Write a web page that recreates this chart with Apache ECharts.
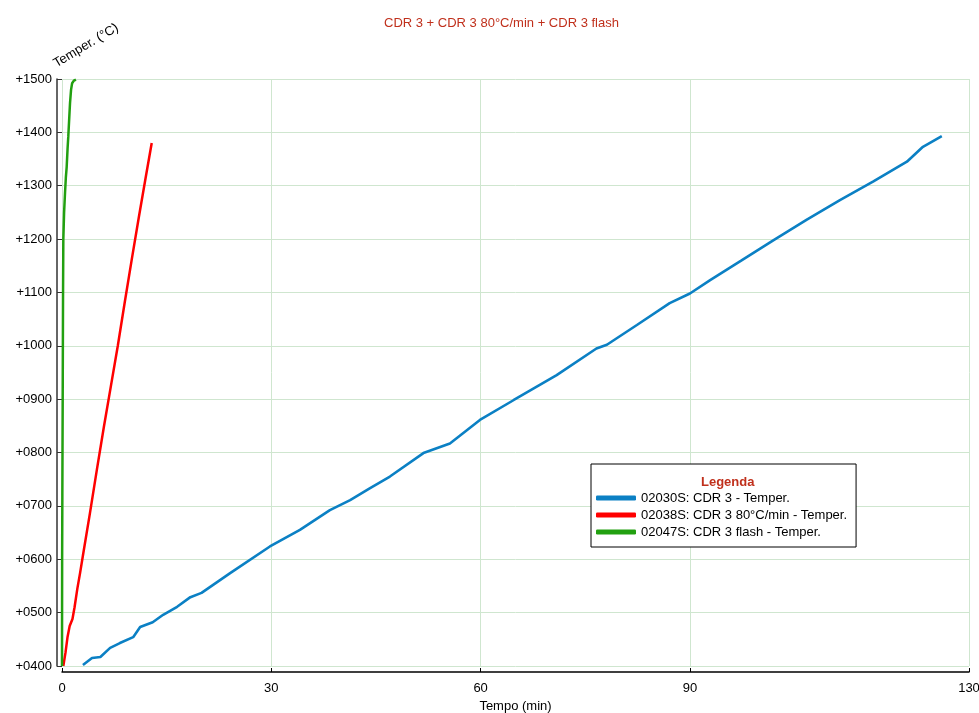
<!DOCTYPE html>
<html><head><meta charset="utf-8">
<script src="https://cdn.jsdelivr.net/npm/echarts@6/dist/echarts.min.js"></script>
<style>html,body{margin:0;padding:0;background:#fff}#c{width:979px;height:713px}</style>
</head><body><div id="c"></div>
<script>
const chartTitle = 'CDR 3 + CDR 3 80°C/min + CDR 3 flash';
const xAxisName = 'Tempo (min)';
const yAxisName = 'Temper. (°C)';
const legendTitle = 'Legenda';
const xTickValues = [0, 30, 60, 90, 130];
const yMin = 400, yMax = 1500, yStep = 100;
const seriesNames = ['02030S: CDR 3 - Temper.', '02038S: CDR 3 80°C/min - Temper.', '02047S: CDR 3 flash - Temper.'];
const seriesColors = ['#0b80c4', '#ff0000', '#22a010'];

const blueTime = [3.0,4.3,5.5,6.9,8.3,10.2,11.2,13.0,14.5,16.5,18.4,20.0,24.1,29.8,34.1,38.4,41.3,44.1,47.0,51.8,55.6,59.9,64.7,70.9,76.6,78.1,82.4,87.1,90.0,92.9,97.4,102.0,106.7,111.5,116.3,121.1,123.4,126.1];
const blueTemp = [402,415,417,434,443,454,473,482,496,511,529,537,574,624,655,692,711,733,755,799,817,861,898,945,995,1002,1039,1080,1098,1123,1160,1198,1236,1273,1308,1345,1373,1393];

const redTime = [0.19,0.5,0.8,1.1,1.5,1.8,2.2,2.6,3.0,4.0,5.0,6.0,7.0,8.0,9.0,10.0,11.0,12.0,12.86];
const redTemp = [400,425,455,475,488,510,545,575,607,686,768,848,924,1000,1082,1162,1240,1316,1380];

const greenTime = [0.0,0.02,0.05,0.1,0.15,0.19,0.3,0.43,0.55,0.67,0.8,0.9,1.05,1.15,1.3,1.45,1.7,2.0];
const greenTemp = [400,600,720,900,1100,1200,1250,1286,1315,1335,1370,1392,1430,1455,1480,1492,1497,1499];

const zip = (a, b) => a.map((v, i) => [v, b[i]]);
const seriesData = [zip(blueTime, blueTemp), zip(redTime, redTemp), zip(greenTime, greenTemp)];
const lineWidths = [2.6, 2.5, 2.5];

const FONT = 'Arial, "Liberation Sans", sans-serif';
const chart = echarts.init(document.getElementById('c'), null, {renderer: 'canvas'});
chart.setOption({
  backgroundColor: '#fff',
  animation: false,
  textStyle: {fontFamily: FONT},
  title: [
    {text: chartTitle, left: 379, top: 12, textStyle: {color: '#c0301c', fontSize: 13, fontWeight: 'normal', fontFamily: FONT}},
    {text: legendTitle, left: 696, top: 471, z: 20, textStyle: {color: '#c0301c', fontSize: 13, fontWeight: 'bold', fontFamily: FONT}}
  ],
  legend: {
    orient: 'vertical', left: 591, top: 464,
    padding: [27, 9, 8, 5],
    backgroundColor: '#fff', borderColor: '#000', borderWidth: 1,
    itemWidth: 40, itemHeight: 5, itemGap: 3, itemTextGap: 4,
    icon: 'roundRect',
    textStyle: {fontSize: 13, color: '#000', fontFamily: FONT, lineHeight: 14},
    data: seriesNames
  },
  graphic: [{
    type: 'text', x: 58, y: 70, rotation: Math.PI * 31 / 180,
    style: {text: yAxisName, fontSize: 13, fontFamily: FONT, fill: '#000', textAlign: 'left', textVerticalAlign: 'bottom'}
  }],
  grid: {left: 62, right: 10, top: 79, bottom: 47, containLabel: false, outerBoundsMode: 'none'},
  xAxis: {
    type: 'value', min: 0, max: 130, offset: 6,
    name: xAxisName, nameLocation: 'middle', nameGap: 28,
    nameTextStyle: {fontSize: 13, color: '#000', fontFamily: FONT},
    axisLine: {show: true, onZero: false, lineStyle: {color: '#000', width: 1.5}},
    axisTick: {show: true, inside: true, length: 4, customValues: xTickValues, lineStyle: {color: '#000'}},
    axisLabel: {customValues: xTickValues, fontSize: 13, color: '#000', margin: 10, fontFamily: FONT},
    splitLine: {show: true, lineStyle: {color: '#cfe6cf', width: 1}}
  },
  yAxis: {
    type: 'value', min: yMin, max: yMax, interval: yStep, offset: 5,
    axisLine: {show: true, onZero: false, lineStyle: {color: '#333', width: 1.5}},
    axisTick: {show: true, inside: true, length: 5, lineStyle: {color: '#333'}},
    axisLabel: {fontSize: 13, color: '#000', margin: 5, fontFamily: FONT,
      formatter: v => '+' + String(v).padStart(4, '0')},
    splitLine: {show: true, lineStyle: {color: '#cfe6cf', width: 1}}
  },
  series: seriesNames.map((n, i) => ({
    name: n, type: 'line', data: seriesData[i], showSymbol: false, symbol: 'none',
    color: seriesColors[i],
    lineStyle: {color: seriesColors[i], width: lineWidths[i]},
    z: 3 + i
  }))
});
</script>
</body></html>
